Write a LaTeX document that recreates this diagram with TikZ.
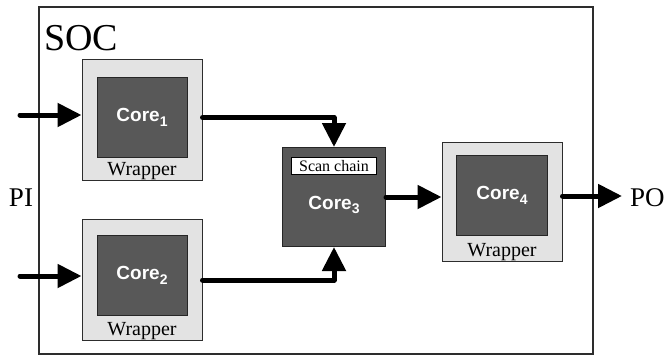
\documentclass[tikz,border=0pt]{standalone}
\usepackage{fontspec}
\setmainfont{Liberation Serif}
\newfontfamily\corefont{Liberation Sans}
\usetikzlibrary{arrows.meta, positioning}
\definecolor{wrapgray}{RGB}{227,227,227}
\definecolor{coregray}{RGB}{88,88,88}
\definecolor{edgegray}{RGB}{45,45,45}
\newcommand{\corename}[1]{Core\raisebox{-0.45ex}{\fontsize{14}{14}\selectfont #1}}
\tikzstyle{soc} = [rectangle, minimum width=554pt, minimum height=347pt, draw=edgegray, line width=1.1pt]
\tikzstyle{wrapper} = [rectangle, minimum width=120pt, minimum height=121pt, fill=wrapgray, draw=edgegray, line width=1pt]
\tikzstyle{core} = [rectangle, minimum width=90pt, minimum height=80pt, fill=coregray, draw=black!85, line width=1pt, text=white, font=\corefont\bfseries\fontsize{19}{21}\selectfont]
\tikzstyle{corelabel} = [text=white, font=\corefont\bfseries\fontsize{19}{21}\selectfont]
\tikzstyle{wraptext} = [inner sep=1pt, font=\fontsize{20}{22}\selectfont]
\tikzstyle{scanbox} = [rectangle, minimum width=85pt, minimum height=17pt, inner sep=0pt, fill=white, draw=black, line width=0.8pt, font=\fontsize{16}{17}\selectfont]
\tikzstyle{outside} = [inner sep=0pt, font=\fontsize{27}{29}\selectfont]
\tikzstyle{arrow} = [line width=5pt, line cap=round, line join=round, -{Triangle[length=24pt,width=23pt]}]

\begin{document}
\begin{tikzpicture}[x=1pt, y=-1pt]
    \useasboundingbox (0,0) rectangle (665,356);

    \node (box) [soc] at (316,180.5) {};
    \node (title) [anchor=base west, inner sep=0pt, font=\fontsize{38}{40}\selectfont] at (44,50) {SOC};

    \node (wrap1) [wrapper] at (142,120) {};
    \node (core1) [core, below=18pt of wrap1.north] {\corename{1}};
    \node (text1) [wraptext, above=0pt of wrap1.south] {Wrapper};

    \node (wrap2) [wrapper] at (142,280) {};
    \node (core2) [core, below=16pt of wrap2.north] {\corename{2}};
    \node (text2) [wraptext, above=0pt of wrap2.south] {Wrapper};

    \node (core3) [core, minimum width=103pt, minimum height=99pt] at (334,197) {};
    \node (scan) [scanbox, below=10pt of core3.north] {Scan chain};
    \node (name3) [corelabel] at ([yshift=-8pt]core3.center) {\corename{3}};

    \node (wrap4) [wrapper, minimum height=119pt] at (502,202) {};
    \node (core4) [core, minimum width=91pt, below=13pt of wrap4.north] {\corename{4}};
    \node (text4) [wraptext, above=0pt of wrap4.south] {Wrapper};

    \node (pi) [outside, anchor=base] at (21,206) {PI};
    \node (po) [outside, anchor=base west] at (630,206) {PO};

    \coordinate (in1) at (20,115);
    \coordinate (in2) at (20,276);
    \coordinate (out) at (622,196);

    \draw [arrow] (in1) -- (in1 -| wrap1.west);
    \draw [arrow] (in2) -- (in2 -| wrap2.west);
    \draw [arrow] (core1 -| wrap1.east) -| (core3.north);
    \draw [arrow] (wrap2.east) -| (core3.south);
    \draw [arrow] (core3.east) -- (core3.east -| wrap4.west);
    \draw [arrow] (out -| wrap4.east) -- (out);

\end{tikzpicture}
\end{document}
